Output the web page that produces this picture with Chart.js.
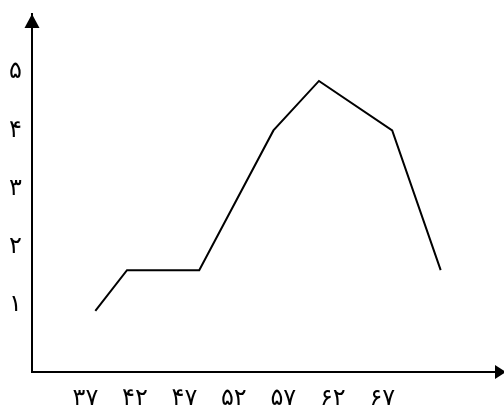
<!DOCTYPE html>
<html>
<head>
<meta charset="utf-8">
<script src="https://cdn.jsdelivr.net/npm/chart.js@4"></script>
<style>
  html, body { margin: 0; padding: 0; background: #fff; }
  canvas { display: block; }
</style>
</head>
<body>
<canvas id="chart" width="504" height="410"></canvas>
<script>
// values
const xValues = [38, 41.2, 48.5, 56, 60.6, 68, 72.9];
const yValues = [0.9, 1.6, 1.6, 4.0, 4.85, 4.0, 1.6];

const xTickValues = [37, 42, 47, 52, 57, 62, 67];
const xTickLabels = ["۳۷", "۴۲", "۴۷", "۵۲", "۵۷", "۶۲", "۶۷"];
const yTickValues = [1, 2, 3, 4, 5];
const yTickLabels = ["۱", "۲", "۳", "۴", "۵"];

const points = xValues.map((x, i) => ({ x: x, y: yValues[i] }));

// arrow heads on the axis ends
const arrowPlugin = {
    id: "arrows",
    afterDraw(chart) {
        const { ctx, chartArea } = chart;
        ctx.save();
        ctx.fillStyle = "#000";
        const left = chartArea.left, top = chartArea.top;
        const bottom = chartArea.bottom, right = chartArea.right;
        ctx.beginPath();
        ctx.moveTo(left, top);
        ctx.lineTo(left - 7.5, top + 14);
        ctx.lineTo(left + 7.5, top + 14);
        ctx.closePath();
        ctx.fill();
        ctx.beginPath();
        ctx.moveTo(right + 2, bottom);
        ctx.lineTo(right - 9, bottom - 7);
        ctx.lineTo(right - 9, bottom + 7);
        ctx.closePath();
        ctx.fill();
        ctx.restore();
    }
};

const tickFont = { family: "DejaVu Sans", size: 24 };

new Chart(document.getElementById("chart").getContext("2d"), {
    type: "line",
    data: {
        datasets: [{
            data: points,
            borderColor: "#000",
            borderWidth: 2,
            pointRadius: 0,
            tension: 0,
            fill: false
        }]
    },
    options: {
        responsive: false,
        animation: false,
        layout: { padding: { top: 14, left: 0, right: 0, bottom: 0 } },
        plugins: {
            legend: { display: false },
            tooltip: { enabled: false }
        },
        scales: {
            x: {
                type: "linear",
                min: 31.6,
                max: 79.3,
                grid: { display: false, drawTicks: false },
                border: { display: true, color: "#000", width: 2 },
                afterBuildTicks: s => { s.ticks = xTickValues.map(v => ({ value: v })); },
                afterFit: s => { s.height = 38; s.paddingLeft = 0; s.paddingRight = 0; },
                ticks: {
                    color: "#000",
                    font: tickFont,
                    padding: 12,
                    maxRotation: 0,
                    autoSkip: false,
                    callback: v => xTickLabels[xTickValues.indexOf(v)]
                }
            },
            y: {
                type: "linear",
                min: -0.15,
                max: 6.0,
                grid: { display: false, drawTicks: false },
                border: { display: true, color: "#000", width: 2 },
                afterBuildTicks: s => { s.ticks = yTickValues.map(v => ({ value: v })); },
                afterFit: s => { s.width = 32; s.paddingTop = 0; s.paddingBottom = 0; },
                ticks: {
                    color: "#000",
                    font: tickFont,
                    padding: 10,
                    crossAlign: "center",
                    autoSkip: false,
                    callback: v => yTickLabels[yTickValues.indexOf(v)]
                }
            }
        }
    },
    plugins: [arrowPlugin]
});
</script>
</body>
</html>
